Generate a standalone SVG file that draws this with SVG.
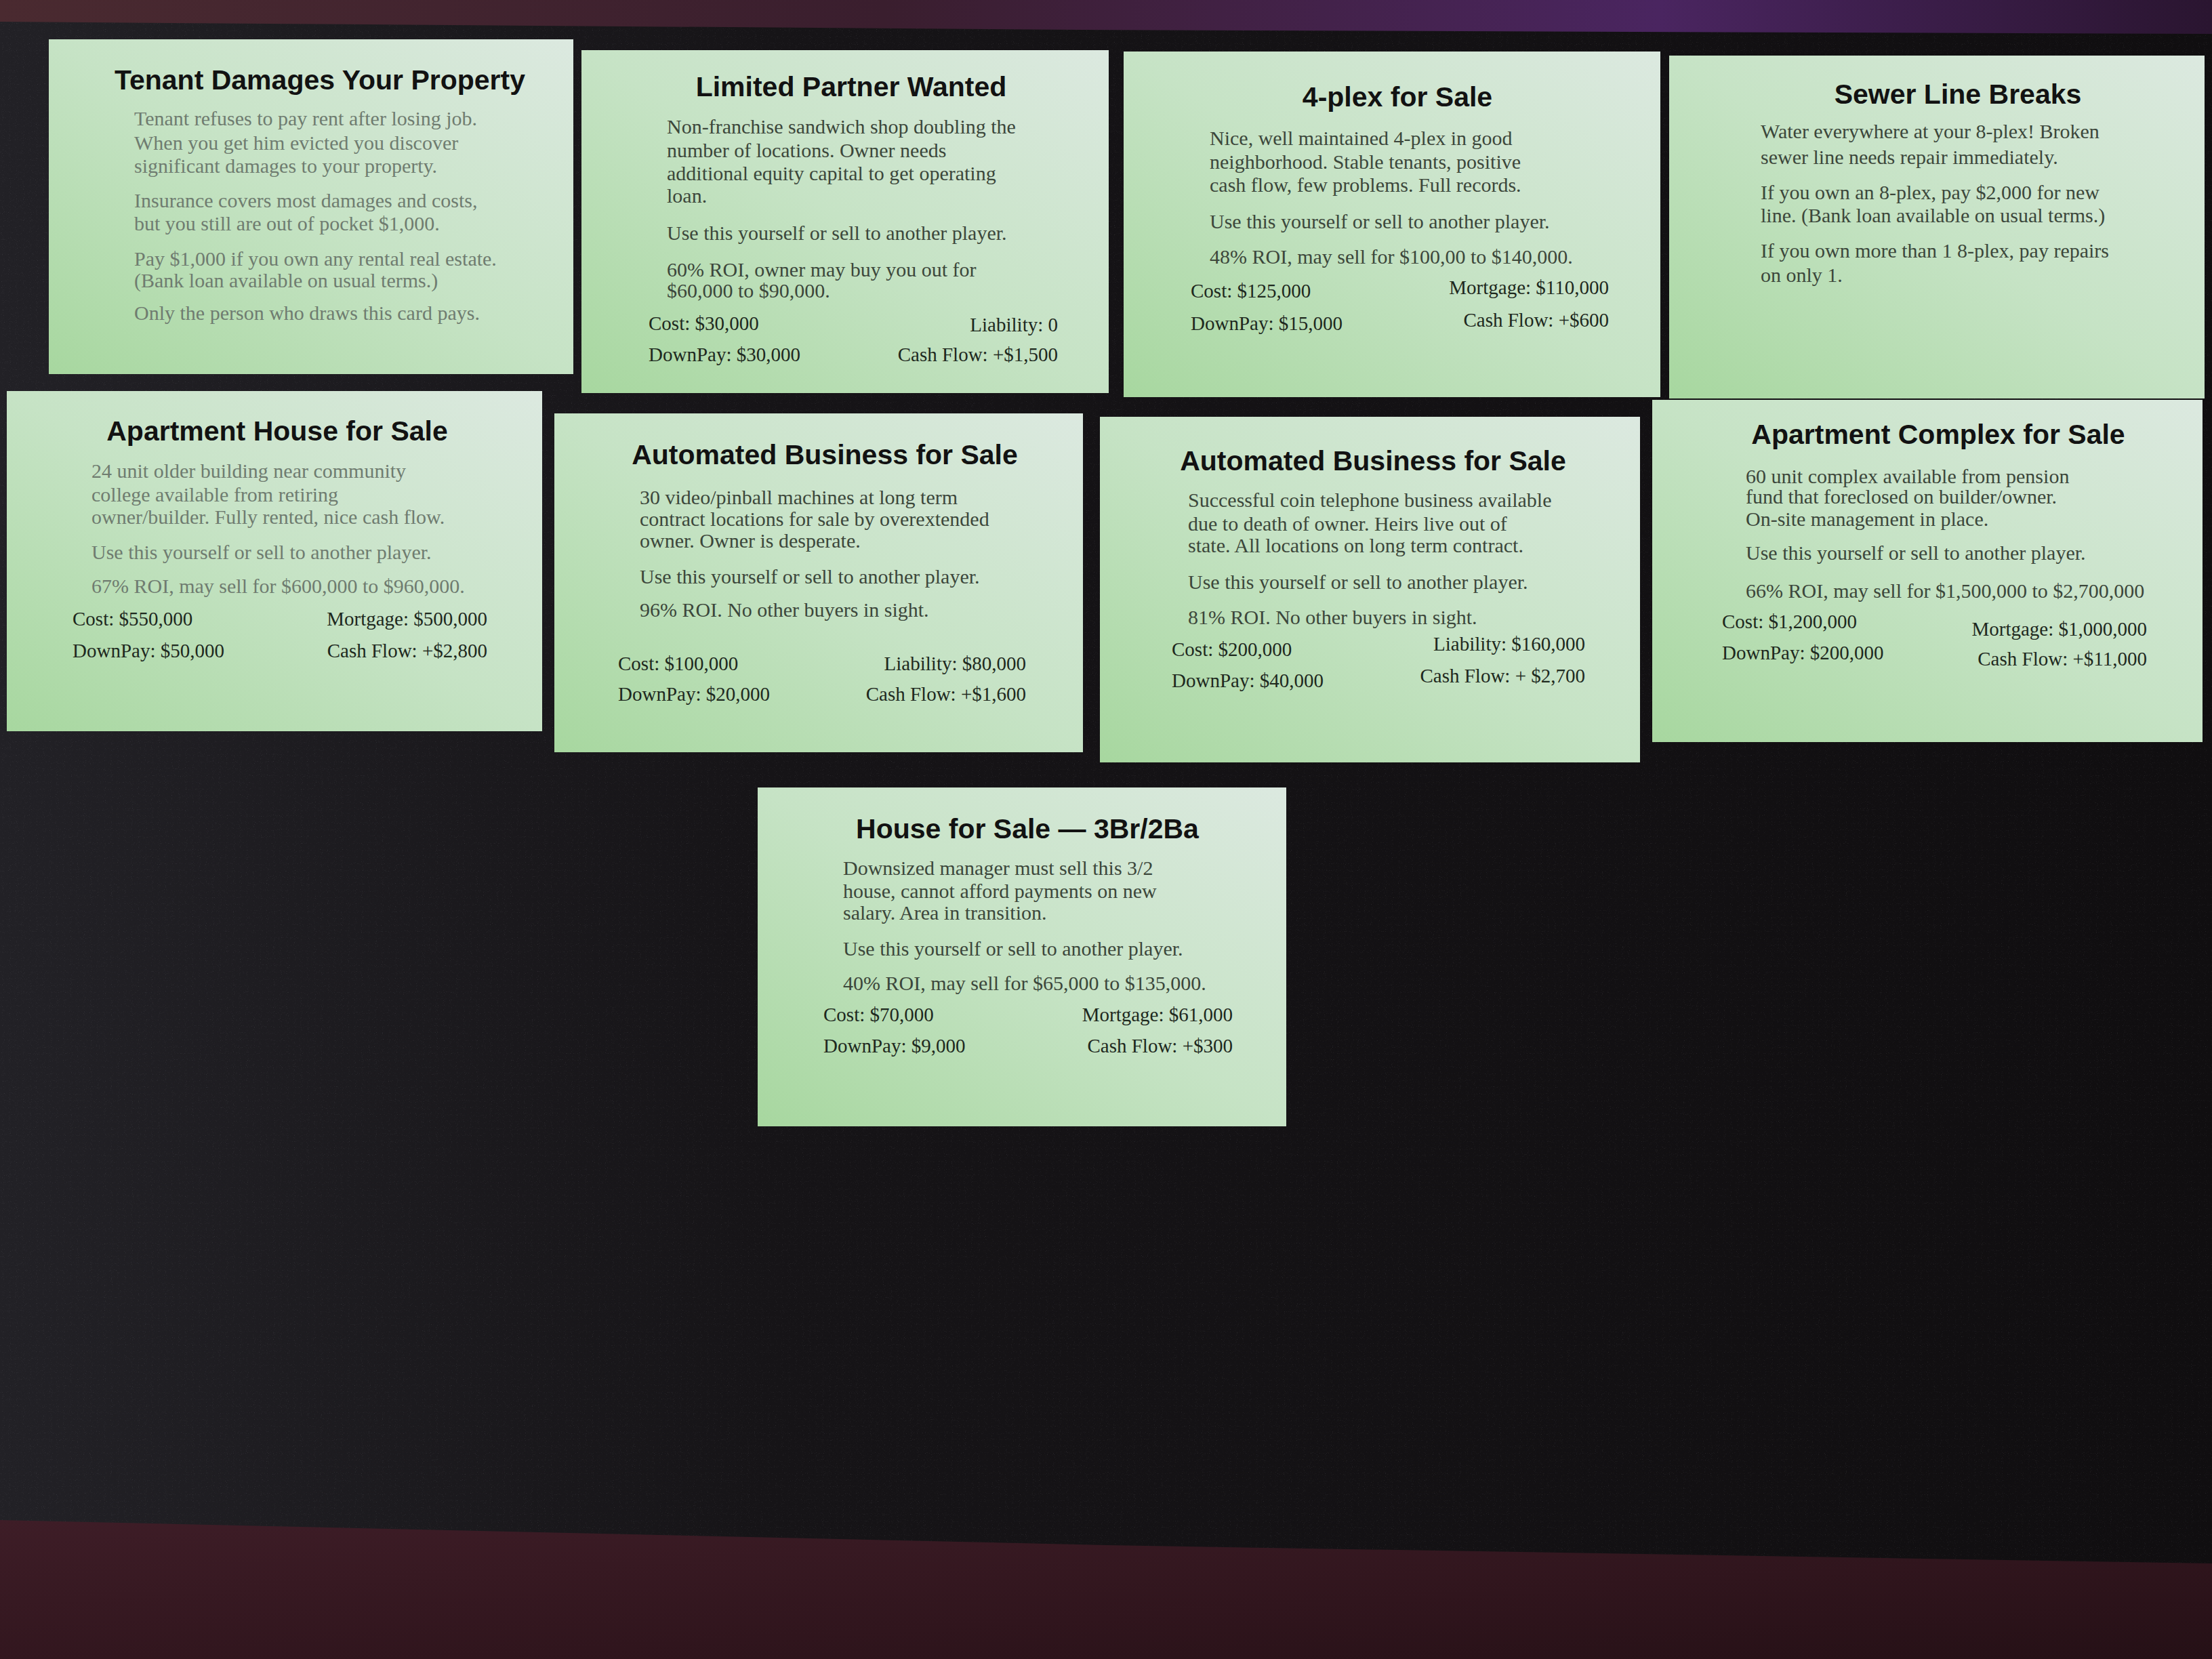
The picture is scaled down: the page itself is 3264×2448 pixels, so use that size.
<svg xmlns="http://www.w3.org/2000/svg" width="3264" height="2448" viewBox="0 0 3264 2448">
<defs>
<linearGradient id="cardGrad" x1="0" y1="1" x2="1" y2="0">
<stop offset="0" stop-color="#a7d79f"/>
<stop offset="0.5" stop-color="#c6e3c5"/>
<stop offset="1" stop-color="#dce9e0"/>
</linearGradient>
<linearGradient id="boardGrad" x1="0" y1="0" x2="1" y2="0">
<stop offset="0" stop-color="#222126"/>
<stop offset="0.35" stop-color="#161417"/>
<stop offset="1" stop-color="#100e10"/>
</linearGradient>
<linearGradient id="topGrad" x1="0" y1="0" x2="1" y2="0">
<stop offset="0" stop-color="#4a2a30"/>
<stop offset="0.4" stop-color="#3a1e2e"/>
<stop offset="0.75" stop-color="#4a2560"/>
<stop offset="1" stop-color="#2a1530"/>
</linearGradient>
<linearGradient id="bottomGrad" x1="0" y1="0" x2="1" y2="1">
<stop offset="0" stop-color="#3e1d27"/>
<stop offset="0.6" stop-color="#30151d"/>
<stop offset="1" stop-color="#251016"/>
</linearGradient>
<filter id="grain" x="0" y="0" width="100%" height="100%">
<feTurbulence type="fractalNoise" baseFrequency="0.9" numOctaves="1" seed="3"/>
<feColorMatrix type="matrix" values="0 0 0 0 0.6  0 0 0 0 0.6  0 0 0 0 0.65  0 0 0 3 -1.9"/>
</filter>
<style>
.card{fill:url(#cardGrad);}
.title{font-family:"Liberation Sans",Arial,sans-serif;font-weight:bold;font-size:41px;fill:#121212;text-anchor:middle;}
.body{font-family:"Liberation Serif","Times New Roman",serif;font-size:30px;fill:#3c473b;}
.faded{fill:#6f7c70;}
.stat{font-family:"Liberation Serif","Times New Roman",serif;font-size:29px;fill:#1e291e;}
.r{text-anchor:end;}
</style>
</defs>

<rect x="0" y="0" width="3264" height="2448" fill="url(#boardGrad)"/>
<rect x="0" y="0" width="3264" height="2448" filter="url(#grain)" opacity="0.2"/>
<polygon points="0,0 3264,0 3264,50 1600,44 0,32" fill="url(#topGrad)"/>
<polygon points="0,2243 1632,2280 3264,2307 3264,2448 0,2448" fill="url(#bottomGrad)"/>

<g id="connectors"></g>

<g id="card-tenant-damages" transform="translate(72,58)">
<rect class="card" width="774" height="494"/>
<text class="title" x="400" y="74">Tenant Damages Your Property</text>
<text class="body faded" x="126" y="127">Tenant refuses to pay rent after losing job.</text>
<text class="body faded" x="126" y="163">When you get him evicted you discover</text>
<text class="body faded" x="126" y="197">significant damages to your property.</text>
<text class="body faded" x="126" y="248">Insurance covers most damages and costs,</text>
<text class="body faded" x="126" y="282">but you still are out of pocket $1,000.</text>
<text class="body faded" x="126" y="334">Pay $1,000 if you own any rental real estate.</text>
<text class="body faded" x="126" y="366">(Bank loan available on usual terms.)</text>
<text class="body faded" x="126" y="414">Only the person who draws this card pays.</text>
</g>

<g id="card-limited-partner" transform="translate(858,74)">
<rect class="card" width="778" height="506"/>
<text class="title" x="398" y="68">Limited Partner Wanted</text>
<text class="body" x="126" y="123">Non-franchise sandwich shop doubling the</text>
<text class="body" x="126" y="158">number of locations. Owner needs</text>
<text class="body" x="126" y="192">additional equity capital to get operating</text>
<text class="body" x="126" y="225">loan.</text>
<text class="body" x="126" y="280">Use this yourself or sell to another player.</text>
<text class="body" x="126" y="334">60% ROI, owner may buy you out for</text>
<text class="body" x="126" y="365">$60,000 to $90,000.</text>
<text class="stat" x="99" y="413">Cost: $30,000</text>
<text class="stat r" x="703" y="415">Liability: 0</text>
<text class="stat" x="99" y="459">DownPay: $30,000</text>
<text class="stat r" x="703" y="459">Cash Flow: +$1,500</text>
</g>

<g id="card-4plex" transform="translate(1658,76)">
<rect class="card" width="792" height="510"/>
<text class="title" x="404" y="81">4-plex for Sale</text>
<text class="body" x="127" y="138">Nice, well maintained 4-plex in good</text>
<text class="body" x="127" y="173">neighborhood. Stable tenants, positive</text>
<text class="body" x="127" y="207">cash flow, few problems. Full records.</text>
<text class="body" x="127" y="261">Use this yourself or sell to another player.</text>
<text class="body" x="127" y="313">48% ROI, may sell for $100,00 to $140,000.</text>
<text class="stat" x="99" y="363">Cost: $125,000</text>
<text class="stat r" x="716" y="358">Mortgage: $110,000</text>
<text class="stat" x="99" y="411">DownPay: $15,000</text>
<text class="stat r" x="716" y="406">Cash Flow: +$600</text>
</g>

<g id="card-sewer" transform="translate(2463,82)">
<rect class="card" width="790" height="506"/>
<text class="title" x="426" y="71">Sewer Line Breaks</text>
<text class="body" x="135" y="122">Water everywhere at your 8-plex! Broken</text>
<text class="body" x="135" y="160">sewer line needs repair immediately.</text>
<text class="body" x="135" y="212">If you own an 8-plex, pay $2,000 for new</text>
<text class="body" x="135" y="246">line. (Bank loan available on usual terms.)</text>
<text class="body" x="135" y="298">If you own more than 1 8-plex, pay repairs</text>
<text class="body" x="135" y="334">on only 1.</text>
</g>

<g id="card-apartment-house" transform="translate(10,577)">
<rect class="card" width="790" height="502"/>
<text class="title" x="399" y="73">Apartment House for Sale</text>
<text class="body faded" x="125" y="128">24 unit older building near community</text>
<text class="body faded" x="125" y="163">college available from retiring</text>
<text class="body faded" x="125" y="196">owner/builder. Fully rented, nice cash flow.</text>
<text class="body faded" x="125" y="248">Use this yourself or sell to another player.</text>
<text class="body faded" x="125" y="298">67% ROI, may sell for $600,000 to $960,000.</text>
<text class="stat" x="97" y="346">Cost: $550,000</text>
<text class="stat r" x="709" y="346">Mortgage: $500,000</text>
<text class="stat" x="97" y="393">DownPay: $50,000</text>
<text class="stat r" x="709" y="393">Cash Flow: +$2,800</text>
</g>

<g id="card-automated-pinball" transform="translate(818,610)">
<rect class="card" width="780" height="500"/>
<text class="title" x="399" y="75">Automated Business for Sale</text>
<text class="body" x="126" y="134">30 video/pinball machines at long term</text>
<text class="body" x="126" y="166">contract locations for sale by overextended</text>
<text class="body" x="126" y="198">owner. Owner is desperate.</text>
<text class="body" x="126" y="251">Use this yourself or sell to another player.</text>
<text class="body" x="126" y="300">96% ROI. No other buyers in sight.</text>
<text class="stat" x="94" y="379">Cost: $100,000</text>
<text class="stat r" x="696" y="379">Liability: $80,000</text>
<text class="stat" x="94" y="424">DownPay: $20,000</text>
<text class="stat r" x="696" y="424">Cash Flow: +$1,600</text>
</g>

<g id="card-automated-telephone" transform="translate(1623,615)">
<rect class="card" width="797" height="510"/>
<text class="title" x="403" y="79">Automated Business for Sale</text>
<text class="body" x="130" y="133">Successful coin telephone business available</text>
<text class="body" x="130" y="168">due to death of owner. Heirs live out of</text>
<text class="body" x="130" y="200">state.  All locations on long term contract.</text>
<text class="body" x="130" y="254">Use this yourself or sell to another player.</text>
<text class="body" x="130" y="306">81% ROI. No other buyers in sight.</text>
<text class="stat" x="106" y="353">Cost: $200,000</text>
<text class="stat r" x="716" y="345">Liability: $160,000</text>
<text class="stat" x="106" y="399">DownPay: $40,000</text>
<text class="stat r" x="716" y="392">Cash Flow: + $2,700</text>
</g>

<g id="card-apartment-complex" transform="translate(2438,590)">
<rect class="card" width="812" height="505"/>
<text class="title" x="422" y="65">Apartment Complex for Sale</text>
<text class="body" x="138" y="123">60 unit complex available from pension</text>
<text class="body" x="138" y="153">fund that foreclosed on builder/owner.</text>
<text class="body" x="138" y="186">On-site management in place.</text>
<text class="body" x="138" y="236">Use this yourself or sell to another player.</text>
<text class="body" x="138" y="292">66% ROI, may sell for $1,500,000 to $2,700,000</text>
<text class="stat" x="103" y="337">Cost: $1,200,000</text>
<text class="stat r" x="730" y="348">Mortgage: $1,000,000</text>
<text class="stat" x="103" y="383">DownPay: $200,000</text>
<text class="stat r" x="730" y="392">Cash Flow: +$11,000</text>
</g>

<g id="card-house" transform="translate(1118,1162)">
<rect class="card" width="780" height="500"/>
<text class="title" x="398" y="75">House for Sale — 3Br/2Ba</text>
<text class="body" x="126" y="129">Downsized manager must sell this 3/2</text>
<text class="body" x="126" y="163">house, cannot afford payments on new</text>
<text class="body" x="126" y="195">salary. Area in transition.</text>
<text class="body" x="126" y="248">Use this yourself or sell to another player.</text>
<text class="body" x="126" y="299">40% ROI, may sell for $65,000 to $135,000.</text>
<text class="stat" x="97" y="345">Cost: $70,000</text>
<text class="stat r" x="701" y="345">Mortgage: $61,000</text>
<text class="stat" x="97" y="391">DownPay: $9,000</text>
<text class="stat r" x="701" y="391">Cash Flow: +$300</text>
</g>
</svg>
